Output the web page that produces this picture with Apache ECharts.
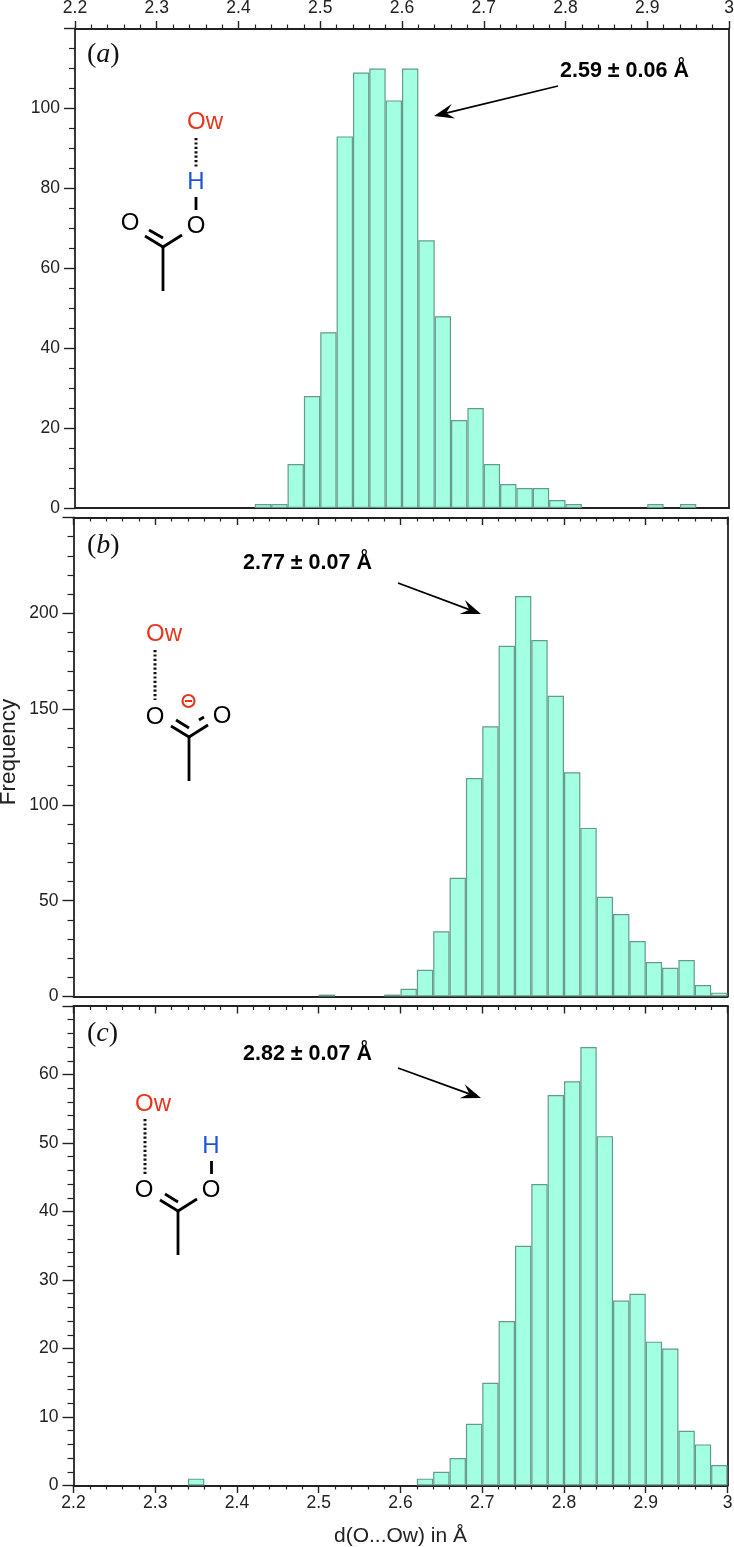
<!DOCTYPE html>
<html><head><meta charset="utf-8">
<style>html,body{margin:0;padding:0;background:#fff}#c{width:734px;height:1547px}</style>
<script src="https://cdn.jsdelivr.net/npm/echarts@6/dist/echarts.min.js"></script>
</head><body><div id="c"></div>
<script>
// Left edge of each 0.02 Å bin and its frequency
const binsA = [2.42,2.44,2.46,2.48,2.50,2.52,2.54,2.56,2.58,2.60,2.62,2.64,2.66,2.68,2.70,2.72,2.74,2.76,2.78,2.80,2.90,2.94];
const freqA = [1,1,11,28,44,93,109,110,102,110,67,48,22,25,11,6,5,5,2,1,1,1];
const binsB = [2.50,2.58,2.60,2.62,2.64,2.66,2.68,2.70,2.72,2.74,2.76,2.78,2.80,2.82,2.84,2.86,2.88,2.90,2.92,2.94,2.96,2.98];
const freqB = [1,1,4,14,34,62,114,141,183,209,186,157,117,88,52,43,29,18,15,19,6,2];
const binsC = [2.34,2.62,2.64,2.66,2.68,2.70,2.72,2.74,2.76,2.78,2.80,2.82,2.84,2.86,2.88,2.90,2.92,2.94,2.96,2.98];
const freqC = [1,1,2,4,9,15,24,35,44,57,59,64,51,27,28,21,20,8,6,3];
const binWidth = 0.02;
const annotationA = '2.59 ± 0.06 Å', annotationB = '2.77 ± 0.07 Å', annotationC = '2.82 ± 0.07 Å';
const xTitle = 'd(O...Ow) in Å', yTitle = 'Frequency';

const SANS = '"Liberation Sans", Arimo, sans-serif';
const INK = '#222', FILL = '#a3ffe2', EDGE = '#679a8c';
const RED = '#e8361e', BLUE = '#1f55d8';

const panels = [
  {left:75,  right:5,   top:28.5, height:479.5, ymax:120, yint:20, ymin:4},
  {left:73.5,right:6.5, top:517.5,height:479,   ymax:250, yint:50, ymin:5},
  {left:73.5,right:6.5, top:1006, height:479.5, ymax:70,  yint:10, ymin:5}
];
const data = [[binsA,freqA],[binsB,freqB],[binsC,freqC]];
const grid=[],xAxis=[],yAxis=[],series=[];
panels.forEach((p,i)=>{
  grid.push({left:p.left,right:p.right,top:p.top,height:p.height,containLabel:false,outerBoundsMode:'none'});
  const plotW = 734-p.left-p.right;
  const fmt = v => v===3 ? '3' : v.toFixed(1);
  const TICK={length:7.5,lineStyle:{color:INK,width:1.4}}, MINOR={length:4,lineStyle:{color:INK,width:1.2}};
  xAxis.push({type:'value',gridIndex:i,position:'top',min:2.2,max:3,interval:0.1,
    axisLine:{onZero:false,lineStyle:{color:INK,width:1.8}},
    axisTick:{show:true,inside:i>0,...TICK},
    minorTick:{show:true,splitNumber:5,...MINOR},
    splitLine:{show:false},minorSplitLine:{show:false},
    axisLabel:{show:i===0,margin:11,fontFamily:SANS,fontSize:17.5,color:'#222',formatter:fmt,alignMinLabel:'center',alignMaxLabel:'center'}
  });
  xAxis.push({type:'value',gridIndex:i,position:'bottom',min:2.2,max:3,interval:0.1,
    axisLine:{onZero:false,lineStyle:{color:INK,width:1.8}},
    axisTick:{show:i===2,...TICK},
    minorTick:{show:i===2,splitNumber:5,...MINOR},
    splitLine:{show:false},minorSplitLine:{show:false},
    axisLabel:{show:i===2,margin:9,fontFamily:SANS,fontSize:17.5,color:'#222',formatter:fmt,alignMinLabel:'center',alignMaxLabel:'center'},
    name:i===2?xTitle:'',nameLocation:'middle',nameGap:40,
    nameTextStyle:{fontFamily:SANS,fontSize:21,color:'#222'}
  });
  yAxis.push({type:'value',gridIndex:i,position:'left',min:0,max:p.ymax,interval:p.yint,
    axisLine:{onZero:false,lineStyle:{color:INK,width:1.8}},
    axisTick:{show:true,length:11,lineStyle:{color:INK,width:1.4}},
    minorTick:{show:true,splitNumber:p.ymin,length:6,lineStyle:{color:INK,width:1.2}},
    splitLine:{show:false},minorSplitLine:{show:false},
    axisLabel:{margin:15,fontFamily:SANS,fontSize:17.5,color:'#222',
      formatter:v=>v===p.ymax?'':String(v),showMaxLabel:false},
    name:i===1?yTitle:'',nameLocation:'middle',nameGap:53,nameRotate:90,nameMoveOverlap:false,
    nameTextStyle:{fontFamily:SANS,fontSize:22.5,color:'#222',padding:[0,0,0,10]}
  });
  yAxis.push({type:'value',gridIndex:i,position:'right',min:0,max:p.ymax,interval:p.yint,
    axisLine:{onZero:false,show:true,lineStyle:{color:INK,width:1.8}},
    axisTick:{show:false},minorTick:{show:false},splitLine:{show:false},axisLabel:{show:false}
  });
  series.push({type:'bar',xAxisIndex:i*2+1,yAxisIndex:i*2,
    barWidth:plotW*binWidth/0.8,barGap:'-100%',
    itemStyle:{color:FILL,borderColor:EDGE,borderWidth:1.2},
    silent:true,animation:false,
    data:data[i][0].map((b,k)=>[+(b+binWidth/2).toFixed(3),data[i][1][k]])
  });
});

const bond=(x1,y1,x2,y2,w=2.8)=>({type:'line',shape:{x1,y1,x2,y2},style:{stroke:'#000',lineWidth:w},silent:true});
const dots=(x1,y1,x2,y2)=>({type:'line',shape:{x1,y1,x2,y2},style:{stroke:'#111',lineWidth:3,lineDash:[2.2,2.2]},silent:true});
const atom=(x,y,t,c='#000',fs=24)=>({type:'text',x,y,style:{text:t,fill:c,fontFamily:SANS,fontSize:fs,align:'center',verticalAlign:'middle'},silent:true});
const note=(x,y,t)=>({type:'text',x,y,style:{text:t,fill:'#000',fontFamily:SANS,fontWeight:'bold',fontSize:21.5,align:'left',verticalAlign:'middle'},silent:true});
const tag=(x,y,l)=>({type:'text',x,y,style:{
  text:'{p|(}{i|'+l+'}{p|)}',align:'left',verticalAlign:'middle',
  rich:{p:{fontFamily:'"Liberation Serif",serif',fontSize:28,fill:'#111'},
        i:{fontFamily:'"Liberation Serif",serif',fontStyle:'italic',fontSize:28,fill:'#111'}}},silent:true});
const arrow=(x1,y1,x2,y2)=>{
  const a=Math.atan2(y2-y1,x2-x1),L=20,W=7.5,ux=Math.cos(a),uy=Math.sin(a);
  const bx=x2-L*ux,by=y2-L*uy,nx=x2-L*0.62*ux,ny=y2-L*0.62*uy;
  return [
    {type:'line',shape:{x1,y1,x2:nx,y2:ny},style:{stroke:'#000',lineWidth:1.8},silent:true},
    {type:'polygon',shape:{points:[[x2,y2],[bx-W*uy,by+W*ux],[nx,ny],[bx+W*uy,by-W*ux]]},style:{fill:'#000'},silent:true}
  ];
};

const graphic=[
  tag(87,55,'a'),tag(87,546,'b'),tag(87,1034,'c'),
  note(560,71,annotationA),note(243,563,annotationB),note(243,1054,annotationC),
  ...arrow(558,86,434,116),...arrow(398,583,481,614),...arrow(398,1068,481,1098),
  // structure a
  atom(205,122,'Ow',RED),dots(196,138,196,167),atom(196,182,'H',BLUE),bond(196,197,196,210),
  atom(196,226,'O'),atom(130,223,'O'),
  bond(182,235,163,247),bond(163,247,145,236),bond(163,238,149,230),bond(163,247,163,291),
  // structure b
  atom(164,634,'Ow',RED),dots(155,650,155,700),atom(155,717,'O'),atom(222,716,'O'),
  {type:'circle',shape:{cx:188.5,cy:701,r:6},style:{fill:'none',stroke:RED,lineWidth:2.2},silent:true},
  {type:'line',shape:{x1:185,y1:701,x2:192,y2:701},style:{stroke:RED,lineWidth:2},silent:true},
  bond(171,726,189,737),bond(189,737,208,725),bond(176,720,189,728),bond(199,720,204,717),bond(189,737,189,781),
  // structure c
  atom(153,1104,'Ow',RED),dots(145,1119,145,1174),atom(144,1190,'O'),atom(211,1190,'O'),atom(211,1146,'H',BLUE),
  bond(211.5,1161,211.5,1174),bond(197,1199,178,1211),bond(178,1211,160,1200),bond(178,1202,165,1194),bond(178,1211,178,1255)
];

const chart=echarts.init(document.getElementById('c'),null,{renderer:'canvas'});
chart.setOption({animation:false,backgroundColor:'#fff',grid,xAxis,yAxis,series,graphic,tooltip:{show:false},legend:{show:false}});
</script></body></html>
